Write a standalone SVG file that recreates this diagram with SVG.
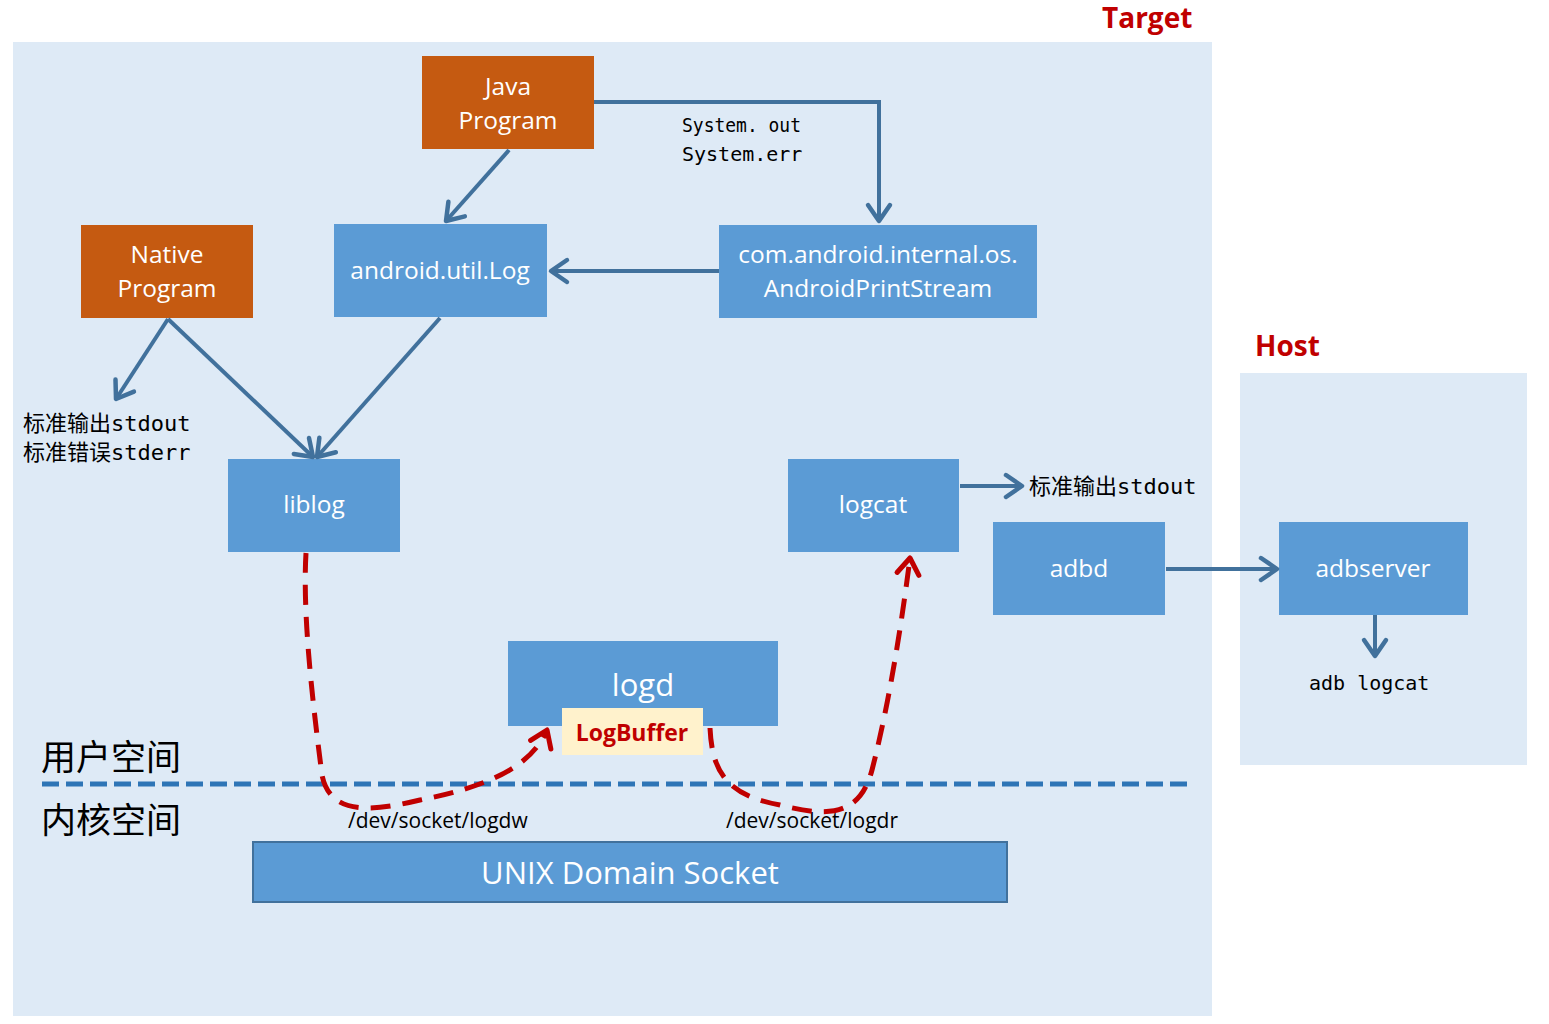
<svg xmlns="http://www.w3.org/2000/svg" width="1549" height="1024" viewBox="0 0 1549 1024">
<defs>
<style>
.panel{fill:#DEEAF6}
.blue{fill:#5B9BD5}
.orange{fill:#C55A11}
.nt{font-family:"Open Sans","Noto Sans",sans-serif;font-size:24.5px;fill:#fff;text-anchor:middle}
.mono{font-family:"DejaVu Sans Mono","Noto Sans CJK SC",monospace;font-size:20px;fill:#000}
.title{font-family:"Open Sans","Noto Sans",sans-serif;font-weight:bold;font-size:28px;fill:#C00000}
.cn{font-family:"Noto Sans CJK SC",sans-serif;font-size:35px;fill:#000}
.path{font-family:"Open Sans","Noto Sans",sans-serif;font-size:21px;fill:#000}
.conn{stroke:#41719C;stroke-width:4;fill:none}
.red{stroke:#C00000;stroke-width:5;fill:none;stroke-dasharray:20 12}
</style>
<marker id="ah" viewBox="0 0 24 24" refX="21" refY="12" markerWidth="24" markerHeight="24" markerUnits="userSpaceOnUse" orient="auto" overflow="visible">
<path d="M5,1 L21,12 L5,23" fill="none" stroke="#41719C" stroke-width="4.5" stroke-linecap="round" stroke-linejoin="round"/>
</marker>
<marker id="ahr" viewBox="0 0 24 24" refX="21" refY="12" markerWidth="24" markerHeight="24" markerUnits="userSpaceOnUse" orient="auto" overflow="visible">
<path d="M5,1 L21,12 L5,23" fill="none" stroke="#C00000" stroke-width="5" stroke-linecap="round" stroke-linejoin="round"/>
</marker>
</defs>
<rect width="1549" height="1024" fill="#fff"/>
<rect class="panel" x="13" y="42" width="1199" height="974"/>
<rect class="panel" x="1240" y="373" width="287" height="392"/>
<text class="title" x="1102" y="28">Target</text>
<text class="title" x="1255" y="356">Host</text>

<line x1="42" y1="784" x2="1188" y2="784" stroke="#2E75B6" stroke-width="5" stroke-dasharray="17 7"/>
<text class="cn" x="41" y="770">用户空间</text>
<text class="cn" x="41" y="833">内核空间</text>

<g id="java"><rect class="orange" x="422" y="56" width="172" height="93"/><text class="nt" x="508" y="95">Java</text><text class="nt" x="508" y="129">Program</text></g>
<g id="native"><rect class="orange" x="81" y="225" width="172" height="93"/><text class="nt" x="167" y="263">Native</text><text class="nt" x="167" y="297">Program</text></g>
<g id="androidlog"><rect class="blue" x="334" y="224" width="213" height="93"/><text class="nt" x="440" y="279">android.util.Log</text></g>
<g id="aps"><rect class="blue" x="719" y="225" width="318" height="93"/><text class="nt" x="878" y="263">com.android.internal.os.</text><text class="nt" x="878" y="297">AndroidPrintStream</text></g>
<g id="liblog"><rect class="blue" x="228" y="459" width="172" height="93"/><text class="nt" x="314" y="513">liblog</text></g>
<g id="logcat"><rect class="blue" x="788" y="459" width="171" height="93"/><text class="nt" x="873" y="513">logcat</text></g>
<g id="adbd"><rect class="blue" x="993" y="522" width="172" height="93"/><text class="nt" x="1079" y="577">adbd</text></g>
<g id="adbserver"><rect class="blue" x="1279" y="522" width="189" height="93"/><text class="nt" x="1373" y="577">adbserver</text></g>
<g id="logd"><rect class="blue" x="508" y="641" width="270" height="85"/><text class="nt" x="643" y="696" style="font-size:31px">logd</text></g>
<g id="logbuffer"><rect x="562" y="708" width="141" height="47" fill="#FFF2CC"/><text x="632" y="741" style="font-family:'Open Sans','Noto Sans',sans-serif;font-weight:bold;font-size:23px;fill:#C00000;text-anchor:middle">LogBuffer</text></g>
<g id="unix"><rect x="253" y="842" width="754" height="60" fill="#5B9BD5" stroke="#41719C" stroke-width="2"/><text class="nt" x="630" y="884" style="font-size:31px">UNIX Domain Socket</text></g>

<g id="labels">
<text class="mono" x="682" y="132" textLength="119" lengthAdjust="spacingAndGlyphs">System. out</text>
<text class="mono" x="682" y="161">System.err</text>
<text class="mono" x="23" y="431" style="font-size:22px">标准输出stdout</text>
<text class="mono" x="23" y="460" style="font-size:22px">标准错误stderr</text>
<text class="mono" x="1029" y="494" style="font-size:22px">标准输出stdout</text>
<text class="mono" x="1309" y="690">adb logcat</text>
<text class="path" x="348" y="828">/dev/socket/logdw</text>
<text class="path" x="726" y="828">/dev/socket/logdr</text>
</g>

<g id="connectors">
<polyline class="conn" points="594,102 879,102 879,221" marker-end="url(#ah)"/>
<line class="conn" x1="509" y1="150" x2="446" y2="221" marker-end="url(#ah)"/>
<line class="conn" x1="719" y1="271" x2="551" y2="271" marker-end="url(#ah)"/>
<line class="conn" x1="168" y1="319" x2="116" y2="399" marker-end="url(#ah)"/>
<line class="conn" x1="168" y1="319" x2="313" y2="457" marker-end="url(#ah)"/>
<line class="conn" x1="440" y1="318" x2="317" y2="457" marker-end="url(#ah)"/>
<line class="conn" x1="960" y1="486" x2="1022" y2="486" marker-end="url(#ah)"/>
<line class="conn" x1="1166" y1="569" x2="1277" y2="569" marker-end="url(#ah)"/>
<line class="conn" x1="1375" y1="615" x2="1375" y2="656" marker-end="url(#ah)"/>
<path class="red" d="M306,553 C302,620 315,720 322,775 C330,815 370,812 420,800 C480,788 530,770 547,730" marker-end="url(#ahr)"/>
<path class="red" d="M710,728 C712,770 725,795 780,805 C830,818 860,815 872,770 C890,700 902,620 910,558" marker-end="url(#ahr)"/>
</g>
</svg>
